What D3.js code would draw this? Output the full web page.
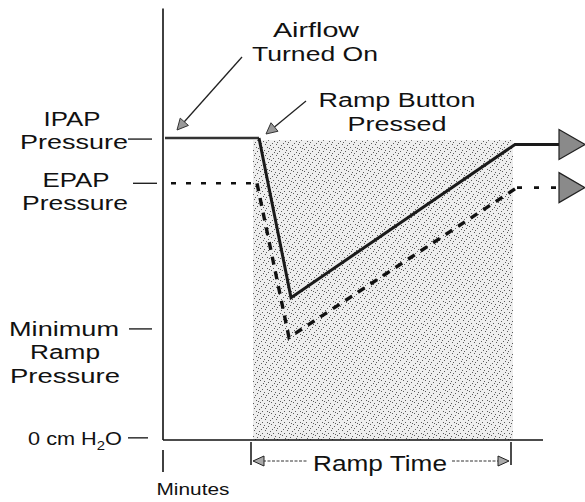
<!DOCTYPE html>
<html>
<head>
<meta charset="utf-8">
<script src="https://cdn.jsdelivr.net/npm/d3@7"></script>
<style>
  body { margin: 0; background: #fff; }
  svg { display: block; }
  text { font-family: "Liberation Sans", Arial, sans-serif; fill: #111; }
</style>
</head>
<body>
<svg id="chart"></svg>
<script>
const WIDTH = 585;
const HEIGHT = 502;

// time in arbitrary "minutes", pressure in cm H2O
const ipapTime = [0.5, 24, 32, 88, 99];
const ipapPressure = [14, 14, 6.6, 13.7, 13.7];
const epapTime = [2, 23.5, 31.5, 88.5, 99];
const epapPressure = [11.9, 11.9, 4.75, 11.7, 11.7];

const rampStart = 22;
const rampEnd = 87;
const shadeTop = 13.9;
const axisMaxTime = 95;
const axisMaxPressure = 20;

const levelNames = ['IPAP', 'EPAP', 'Minimum', 'Zero'];
const levelValues = [13.95, 11.9, 5.15, 0.1];

const svg = d3.select('#chart').attr('width', WIDTH).attr('height', HEIGHT);

const x = d3.scaleLinear().domain([0, 100]).range([163, 563]);
const y = d3.scaleLinear().domain([0, 14]).range([440, 138]);

// stipple pattern for the ramp area
const defs = svg.append('defs');
const pat = defs.append('pattern')
  .attr('id', 'stipple')
  .attr('patternUnits', 'userSpaceOnUse')
  .attr('width', 11).attr('height', 11);
pat.append('rect').attr('width', 11).attr('height', 11).attr('fill', '#eeeeee');
const dots = [[1,1],[6,2],[3,4],[9,4],[7,6],[0,7],[4,8],[10,9],[2,10],[8,0],[5,5]];
dots.forEach(([dx, dy]) => {
  pat.append('rect').attr('x', dx).attr('y', dy).attr('width', 1).attr('height', 1).attr('fill', '#5a5a5a');
});

svg.append('rect')
  .attr('x', x(rampStart) + 2)
  .attr('y', y(shadeTop))
  .attr('width', x(rampEnd) - x(rampStart))
  .attr('height', y(0) - y(shadeTop))
  .attr('fill', 'url(#stipple)');

// axes
svg.append('line')
  .attr('x1', x(0)).attr('x2', x(0))
  .attr('y1', y(0)).attr('y2', y(axisMaxPressure))
  .attr('stroke', '#111').attr('stroke-width', 1.6);
svg.append('line')
  .attr('x1', x(0)).attr('x2', x(axisMaxTime))
  .attr('y1', y(0)).attr('y2', y(0))
  .attr('stroke', '#111').attr('stroke-width', 1.6);

// minutes tick below axis
svg.append('line')
  .attr('x1', x(0)).attr('x2', x(0))
  .attr('y1', y(0) + 10).attr('y2', y(0) + 32)
  .attr('stroke', '#111').attr('stroke-width', 1.6);

const line = d3.line().x(d => x(d[0])).y(d => y(d[1]));
const epapPts = d3.zip(epapTime, epapPressure);
const ipapPts = d3.zip(ipapTime, ipapPressure);

// EPAP: short dashes on the flat parts, longer ones on the ramp
const epapParts = [
  { pts: epapPts.slice(0, 2), dash: '5,10', w: 2.6 },
  { pts: epapPts.slice(1, 4), dash: '8,7', w: 3.4 },
  { pts: epapPts.slice(3, 5), dash: '5,12', w: 2.6 }
];
epapParts.forEach(p => {
  svg.append('path')
    .datum(p.pts)
    .attr('d', line)
    .attr('fill', 'none')
    .attr('stroke', '#111')
    .attr('stroke-width', p.w)
    .attr('stroke-dasharray', p.dash);
});

svg.append('path')
  .datum(ipapPts.slice(0, 2))
  .attr('d', line)
  .attr('fill', 'none')
  .attr('stroke', '#333')
  .attr('stroke-width', 2.4);
svg.append('path')
  .datum(ipapPts.slice(1))
  .attr('d', line)
  .attr('fill', 'none')
  .attr('stroke', '#1a1a1a')
  .attr('stroke-width', 3)
  .attr('stroke-linejoin', 'miter');

// big arrowheads at the end of both lines
function bigArrow(t, p) {
  const x0 = x(t), x1 = x(t + 6.5), yc = y(p);
  svg.append('path')
    .attr('d', `M${x0},${yc - 15}L${x1},${yc}L${x0},${yc + 15}Z`)
    .attr('fill', '#8a8a8a')
    .attr('stroke', '#222')
    .attr('stroke-width', 1.2);
}
bigArrow(ipapTime[ipapTime.length - 1], ipapPressure[ipapPressure.length - 1]);
bigArrow(epapTime[epapTime.length - 1], epapPressure[epapPressure.length - 1]);

// small pointer arrows
function pointer(xa, ya, xb, yb, size) {
  const ang = Math.atan2(yb - ya, xb - xa);
  const bx = xb - Math.cos(ang) * size, by = yb - Math.sin(ang) * size;
  const nx = -Math.sin(ang) * size * 0.5, ny = Math.cos(ang) * size * 0.5;
  svg.append('line')
    .attr('x1', xa).attr('y1', ya).attr('x2', bx).attr('y2', by)
    .attr('stroke', '#222').attr('stroke-width', 1.3);
  svg.append('path')
    .attr('d', `M${xb},${yb}L${bx + nx},${by + ny}L${bx - nx},${by - ny}Z`)
    .attr('fill', '#999').attr('stroke', '#333').attr('stroke-width', 1);
}
pointer(242, 57, x(ipapTime[0]) + 12, y(ipapPressure[0]) - 8, 11);
pointer(306, 101, x(ipapTime[1]) + 7, y(ipapPressure[1]) - 4, 11);

// level dashes on the left
const dashSpan = { IPAP: [128, 152], EPAP: [133, 157], Minimum: [129, 152], Zero: [128, 148] };
levelNames.forEach((n, i) => {
  svg.append('line')
    .attr('x1', dashSpan[n][0]).attr('x2', dashSpan[n][1])
    .attr('y1', y(levelValues[i])).attr('y2', y(levelValues[i]))
    .attr('stroke', '#222').attr('stroke-width', 1.4);
});

// ramp time bracket
const yb = y(0) + 21;
[rampStart, rampEnd].forEach(t => {
  svg.append('line')
    .attr('x1', x(t)).attr('x2', x(t))
    .attr('y1', y(0) + 2).attr('y2', y(0) + 25)
    .attr('stroke', '#111').attr('stroke-width', 1.5);
});
svg.append('line').attr('x1', x(rampStart) + 12).attr('x2', 308)
  .attr('y1', yb).attr('y2', yb).attr('stroke', '#333').attr('stroke-width', 1).attr('stroke-dasharray', '3,1.5');
svg.append('line').attr('x1', 452).attr('x2', x(rampEnd) - 12)
  .attr('y1', yb).attr('y2', yb).attr('stroke', '#333').attr('stroke-width', 1).attr('stroke-dasharray', '3,1.5');
function smallHead(tip, dir) {
  const bx = tip + dir * 11;
  svg.append('path')
    .attr('d', `M${tip},${yb}L${bx},${yb - 5}L${bx},${yb + 5}Z`)
    .attr('fill', '#aaa').attr('stroke', '#222').attr('stroke-width', 1);
}
smallHead(x(rampStart) + 2, 1);
smallHead(x(rampEnd) - 2, -1);

// text labels (the scan is a little wider than the font, so each is stretched to width)
const labels = [
  { t: 'Airflow', cx: 316, by: 37, w: 87, s: 20 },
  { t: 'Turned On', cx: 315, by: 61, w: 126, s: 20 },
  { t: 'Ramp Button', cx: 397, by: 107, w: 157, s: 21 },
  { t: 'Pressed', cx: 397, by: 131, w: 99, s: 21 },
  { t: 'IPAP', cx: 72, by: 126, w: 57, s: 21 },
  { t: 'Pressure', cx: 74, by: 149, w: 108, s: 21 },
  { t: 'EPAP', cx: 76, by: 187, w: 67, s: 21 },
  { t: 'Pressure', cx: 75, by: 210, w: 106, s: 21 },
  { t: 'Minimum', cx: 64, by: 336, w: 110, s: 21 },
  { t: 'Ramp', cx: 65, by: 359, w: 70, s: 21 },
  { t: 'Pressure', cx: 65, by: 383, w: 110, s: 21 },
  { t: 'Minutes', cx: 193, by: 495, w: 73, s: 17 },
  { t: 'Ramp Time', cx: 380, by: 471, w: 134, s: 22 }
];

function stretch(g, w) {
  const bb = g.node().getBBox();
  return bb.width > 0 ? w / bb.width : 1;
}

labels.forEach(l => {
  const g = svg.append('g');
  g.append('text')
    .attr('text-anchor', 'middle')
    .attr('font-size', l.s)
    .text(l.t);
  g.attr('transform', `translate(${l.cx},${l.by}) scale(${stretch(g, l.w)},1)`);
});

// 0 cm H2O with subscript
const zg = svg.append('g');
const zt = zg.append('text').attr('text-anchor', 'middle').attr('font-size', 19);
zt.append('tspan').text('0 cm H');
zt.append('tspan').attr('font-size', 13).attr('dy', 5).text('2');
zt.append('tspan').attr('dy', -5).text('O');
zg.attr('transform', `translate(75,445) scale(${stretch(zg, 94)},1)`);
</script>
</body>
</html>
